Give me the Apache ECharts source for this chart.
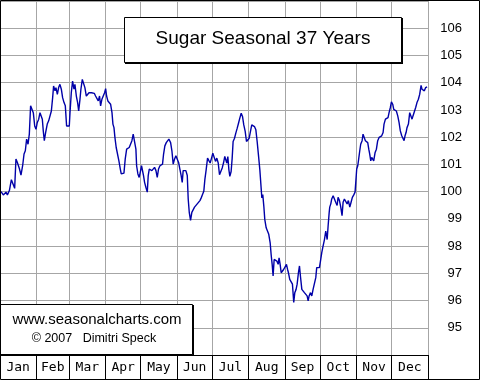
<!DOCTYPE html>
<html>
<head>
<meta charset="utf-8">
<script src="https://cdn.jsdelivr.net/npm/echarts@6/dist/echarts.min.js"></script>
<style>
html,body{margin:0;padding:0;background:#fff;}
#chart{width:480px;height:380px;}
</style>
</head>
<body>
<div id="chart"></div>
<script>
// ---- data ----
const months = ['Jan','Feb','Mar','Apr','May','Jun','Jul','Aug','Sep','Oct','Nov','Dec'];
const monthStartDays = [0,31,59,90,120,151,181,212,243,273,304,334,365];
const yTickLabels = [95,96,97,98,99,100,101,102,103,104,105,106];
const titleText = 'Sugar Seasonal 37 Years';
const footerLine1 = 'www.seasonalcharts.com';
const footerLine2 = '\u00A9 2007   Dimitri Speck';

const janMarDays = [0.9,2.8,5.1,6.3,8.0,9.7,11.4,12.5,13.6,14.8,16.5,17.9,19.3,20.5,21.6,22.7,23.9,25.0,26.1,27.6,28.4,29.6,30.7,31.8,33.0,34.1,34.9,36.1,36.9,37.8,38.9,40.3,41.5,42.6,43.8,44.9,45.7,46.9,47.7,48.9,50.0,51.1,52.3,53.4,54.6,55.7,56.8,58.2,59.1,59.7,60.8,61.9,63.1,63.9,65.1,66.2,67.1,68.2,69.0,70.2,71.3,72.4,73.6,74.7,75.9,77.0,78.1,79.3,80.4,81.5,82.7,83.8,84.9,85.8];
const janMarValues = [100.00,99.88,99.98,99.88,100.04,100.44,100.40,100.12,101.20,101.07,100.85,100.61,100.95,101.38,101.50,101.93,101.74,102.11,103.15,103.15,102.90,102.41,102.29,102.54,102.66,102.90,102.96,102.66,102.23,101.87,102.17,102.48,102.60,102.60,102.96,103.45,103.88,103.70,103.82,103.57,103.82,103.94,103.76,103.45,103.27,103.15,102.41,102.35,102.41,102.90,103.63,104.06,103.76,103.94,103.51,103.27,102.96,103.39,103.76,104.12,104.06,103.82,103.51,103.57,103.63,103.57,103.63,103.57,103.61,103.51,103.45,103.33,103.51,103.15];

const marJunDays = [86.9,88.1,89.2,90.1,90.9,92.0,93.2,94.3,95.5,96.3,97.2,98.0,99.1,100.3,101.4,102.6,103.4,104.5,105.7,106.8,108.0,109.1,110.2,111.4,112.5,113.6,114.8,115.9,116.5,117.6,118.7,119.6,120.7,121.6,122.4,123.3,124.4,125.6,126.4,127.3,128.4,129.5,130.7,131.8,133.0,134.1,135.2,136.4,137.5,138.6,139.5,140.6,141.8,142.9,144.0,144.6,145.5,146.6,147.7,148.9,150.0,151.1,152.3,153.4,154.5,155.4,156.2,157.4,158.5,159.7,160.5,161.4,162.5,163.6,164.8,165.9,167.0,168.2,169.3,170.5];
const marJunValues = [103.39,103.45,103.63,103.78,103.51,103.33,103.27,103.21,102.90,102.48,102.35,101.99,101.62,101.56,101.13,100.83,100.65,100.71,100.68,101.20,101.56,101.50,101.62,101.68,101.87,102.11,102.11,101.56,100.95,100.65,100.52,100.71,100.95,101.01,100.59,100.34,100.16,99.98,100.59,100.83,100.89,100.77,100.83,100.89,100.77,100.52,100.83,100.95,100.95,101.01,101.38,101.68,101.80,101.87,101.93,101.99,101.80,101.50,101.01,101.20,101.32,101.20,101.07,100.83,100.59,100.34,100.77,100.83,100.77,100.59,99.73,99.24,98.94,99.24,99.30,99.43,99.49,99.55,99.61,99.67];

const junOctDays = [171.6,172.7,173.8,174.7,175.8,177.0,178.1,179.2,180.4,181.5,182.6,183.8,184.9,186.1,187.2,188.3,189.5,190.6,191.7,192.9,193.4,194.3,195.2,196.0,197.1,198.0,198.8,200.0,201.1,202.3,203.4,204.5,205.7,206.8,207.9,209.1,210.2,211.3,212.5,213.6,214.7,215.9,217.0,218.2,219.3,220.4,221.6,222.7,223.3,224.1,225.0,225.8,227.0,228.1,229.2,230.4,231.2,232.1,232.9,233.8,234.9,236.1,237.2,238.0,238.9,239.8,240.9,242.0,243.2,244.3,245.2,246.0,247.1,248.3,249.4,250.5,251.4,252.5,253.4,254.5,255.4,256.2,257.4,258.5,259.6,260.8,261.9,262.8,263.6,264.8,265.9,267.0,268.2,269.3,270.1,271.3,272.4,273.3,274.4,275.5,276.7,277.8,279.0,279.8,280.7];
const junOctValues = [99.77,99.89,100.01,100.44,100.80,101.23,101.17,101.05,101.23,101.41,101.35,101.11,101.23,101.05,100.62,100.62,100.87,101.05,101.29,101.35,101.05,101.29,100.80,100.56,100.74,101.23,101.84,101.96,102.15,102.33,102.51,102.70,102.88,102.76,102.45,102.21,101.84,101.90,101.96,102.21,102.45,102.45,102.39,102.27,101.84,101.35,100.80,100.13,99.77,99.89,99.46,98.98,98.67,98.55,98.43,98.12,97.70,97.33,96.90,97.51,97.45,97.45,97.33,97.57,97.33,97.02,96.96,97.15,97.21,97.33,97.15,97.02,96.78,96.72,96.60,95.93,96.29,96.41,96.60,97.02,97.27,96.90,96.41,96.35,96.29,96.23,96.17,95.99,96.17,96.29,96.17,96.41,96.35,96.84,97.21,97.21,97.21,97.45,97.76,98.00,98.24,98.55,98.24,98.73,99.22];

const octDecDays = [281.2,282.1,282.9,284.1,285.2,286.3,287.5,288.3,289.5,290.6,291.7,292.6,293.7,294.9,296.0,297.1,298.3,299.4,300.5,301.7,302.8,303.4,304.2,305.1,305.9,306.8,307.6,308.8,309.6,310.8,311.6,312.5,313.6,314.5,315.3,316.2,317.0,317.9,318.7,319.9,321.0,322.1,323.3,324.4,325.5,326.7,327.5,328.7,329.8,330.9,331.8,332.9,333.8,334.9,335.8,336.9,338.0,339.2,340.3,341.4,342.6,343.7,344.6,345.4,346.3,347.1,348.3,349.4,350.5,351.4,352.2,353.4,354.5,355.6,356.8,357.9,359.1,359.9,360.8,361.9,363.0,364.2];
const octDecValues = [99.43,99.55,99.73,99.85,99.79,99.61,99.49,99.79,99.67,99.43,99.12,99.61,99.73,99.67,99.55,99.67,99.43,99.61,99.79,99.88,99.98,100.34,100.83,100.95,101.20,101.50,101.74,101.87,102.11,102.05,101.87,101.93,101.80,101.56,101.38,101.13,101.26,101.26,101.13,101.44,101.56,101.87,101.99,101.99,102.05,102.17,102.48,102.66,102.66,102.72,102.90,103.09,103.30,103.21,103.02,102.96,102.96,102.78,102.54,102.23,102.05,101.99,101.87,102.05,102.17,102.35,102.48,102.90,102.90,102.66,102.78,102.84,103.09,103.27,103.39,103.57,103.90,103.76,103.70,103.70,103.82,103.85];

// ---- build ----
const allDays = janMarDays.concat(marJunDays, junOctDays, octDecDays);
const allValues = janMarValues.concat(marJunValues, junOctValues, octDecValues);
const seriesData = allDays.map((d, i) => [d, allValues[i]]);

// half-day category scaffold for the month strip
const halfDayCount = 365 * 2 + 1;
const halfDayCats = Array.from({length: halfDayCount}, (_, i) => String(i));
const boundarySet = new Set(monthStartDays.map(d => d * 2));
const labelMap = new Map();
months.forEach((m, i) => labelMap.set(monthStartDays[i] + monthStartDays[i + 1], m));
const yLabelSet = new Set(yTickLabels);

const GRID = '#a6a6a6';
const chart = echarts.init(document.getElementById('chart'), null, {renderer: 'canvas'});
chart.setOption({
  animation: false,
  backgroundColor: '#ffffff',
  grid: {left: 0, top: 1, width: 428, height: 354, containLabel: false},
  xAxis: [
    {type: 'value', min: 0, max: 365, show: false, position: 'top'},
    {
      type: 'category', position: 'bottom', boundaryGap: false, data: halfDayCats,
      axisLine: {show: true, onZero: false, lineStyle: {color: '#000', width: 1}},
      axisTick: {show: true, interval: (i) => boundarySet.has(i), length: 24, lineStyle: {color: '#000', width: 1}},
      splitLine: {show: true, interval: (i) => boundarySet.has(i), lineStyle: {color: GRID, width: 1}},
      axisLabel: {
        show: true, interval: (i) => labelMap.has(i),
        formatter: (v) => labelMap.get(Number(v)) || '',
        fontFamily: 'DejaVu Sans Mono', fontSize: 13, color: '#000', margin: 6
      }
    }
  ],
  yAxis: {
    type: 'value', min: 94, max: 107, interval: 1, position: 'right',
    axisLine: {show: false}, axisTick: {show: false},
    splitLine: {show: true, lineStyle: {color: GRID, width: 1}},
    axisLabel: {
      formatter: (v) => yLabelSet.has(v) ? String(v) : '',
      align: 'right', margin: 34, fontFamily: 'Liberation Sans', fontSize: 13, color: '#000'
    }
  },
  series: [{
    type: 'line', xAxisIndex: 0, yAxisIndex: 0, data: seriesData,
    showSymbol: false, symbol: 'none',
    lineStyle: {color: '#0000a8', width: 1.4},
    z: 3
  }],
  graphic: [
    {type: 'rect', z: 100, shape: {x: 125, y: 18, width: 278, height: 46}, style: {fill: '#000'}},
    {type: 'rect', z: 101, shape: {x: 124.5, y: 17.5, width: 277, height: 45}, style: {fill: '#fff', stroke: '#000', lineWidth: 1}},
    {type: 'text', z: 102, x: 263, y: 39, style: {text: titleText, fill: '#000', font: '19px "Liberation Sans", Arial, sans-serif', textAlign: 'center', textVerticalAlign: 'middle'}},
    {type: 'rect', z: 100, shape: {x: 1, y: 305, width: 193, height: 50}, style: {fill: '#000'}},
    {type: 'rect', z: 101, shape: {x: 0.5, y: 304.5, width: 192, height: 50}, style: {fill: '#fff', stroke: '#000', lineWidth: 1}},
    {type: 'text', z: 102, x: 97, y: 320, style: {text: footerLine1, fill: '#000', font: '15px "Liberation Sans", Arial, sans-serif', textAlign: 'center', textVerticalAlign: 'middle'}},
    {type: 'text', z: 102, x: 94, y: 338.5, style: {text: footerLine2, fill: '#000', font: '12.5px "Liberation Sans", Arial, sans-serif', textAlign: 'center', textVerticalAlign: 'middle'}},
    {type: 'rect', z: 110, shape: {x: 0.5, y: 0.5, width: 479, height: 379}, style: {fill: 'none', stroke: '#000', lineWidth: 1}}
  ]
});
</script>
</body>
</html>
